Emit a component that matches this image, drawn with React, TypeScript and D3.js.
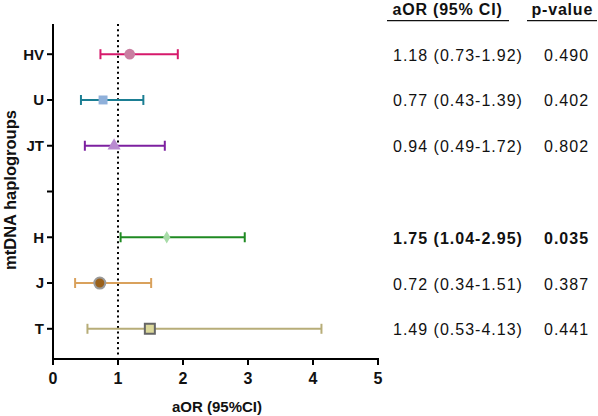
import React from "react";
import * as d3 from "d3";

const groups = ["HV", "U", "JT", "", "H", "J", "T"];
const aor = [1.18, 0.77, 0.94, NaN, 1.75, 0.72, 1.49];
const ciLow = [0.73, 0.43, 0.49, NaN, 1.04, 0.34, 0.53];
const ciHigh = [1.92, 1.39, 1.72, NaN, 2.95, 1.51, 4.13];
const pValues = ["0.490", "0.402", "0.802", "", "0.035", "0.387", "0.441"];
const significant = [false, false, false, false, true, false, false];
const xTicks = [0, 1, 2, 3, 4, 5];

const lineColors = ["#d6196b", "#1b7e93", "#7d20a0", "", "#1f8a22", "#d9a15c", "#b7ad78"];
const markerFill = ["#c97fa2", "#8fb0da", "#b98bd0", "", "#a8dca8", "#9a611b", "#dcd99b"];
const markerStroke = ["none", "none", "none", "none", "none", "#9a9a9a", "#666666"];
const markerShape = ["circle", "square", "triangle", "", "diamond", "circle", "square"];
const markerSize = [90, 80, 75, 0, 45, 95, 100];

const W = 598;
const H = 416;
const FONT = "'Liberation Sans', Arial, Helvetica, sans-serif";

export default function App() {
  const x = d3.scaleLinear().domain([0, 5]).range([53, 378]);
  const y = d3.scaleLinear().domain([0.34, 7.66]).range([24, 359]);
  const rowY = (i: number) => y(i + 1);

  const symbolFor = (s: string) =>
    s === "circle" ? d3.symbolCircle : s === "square" ? d3.symbolSquare : s === "triangle" ? d3.symbolTriangle : d3.symbolDiamond;

  const tableX = 393;
  const pX = 544;

  return (
    <div style={{ position: "absolute", left: 0, top: 0 }}>
      <svg width={W} height={H} style={{ display: "block", background: "#fff" }} fontFamily={FONT}>
        {/* reference line at 1 */}
        <line x1={x(1)} x2={x(1)} y1={y(0.34)} y2={y(7.66)} stroke="#000" strokeWidth={2} strokeDasharray="2,3.3" />

        {/* error bars */}
        {groups.map((g, i) => {
          if (isNaN(aor[i])) return null;
          const cy = rowY(i);
          const x0 = x(ciLow[i]);
          const x1 = x(ciHigh[i]);
          const sym = d3.symbol().type(symbolFor(markerShape[i])).size(markerSize[i])();
          return (
            <g key={g}>
              <line x1={x0} x2={x1} y1={cy} y2={cy} stroke={lineColors[i]} strokeWidth={2} />
              <line x1={x0} x2={x0} y1={cy - 5} y2={cy + 5} stroke={lineColors[i]} strokeWidth={2} />
              <line x1={x1} x2={x1} y1={cy - 5} y2={cy + 5} stroke={lineColors[i]} strokeWidth={2} />
              <path
                d={sym || ""}
                transform={`translate(${x(aor[i])},${cy})`}
                fill={markerFill[i]}
                stroke={markerStroke[i]}
                strokeWidth={2}
              />
            </g>
          );
        })}

        {/* y axis */}
        <line x1={53} x2={53} y1={y(0.34)} y2={y(7.66) + 1} stroke="#000" strokeWidth={2} />
        {groups.map((g, i) => (
          <g key={"yt" + i}>
            <line x1={47} x2={53} y1={rowY(i)} y2={rowY(i)} stroke="#000" strokeWidth={2} />
            <text x={44} y={rowY(i)} dy="0.36em" textAnchor="end" fontWeight="bold" fontSize={15} fill="#111">
              {g}
            </text>
          </g>
        ))}

        {/* x axis */}
        <line x1={52} x2={x(5) + 1} y1={y(7.66)} y2={y(7.66)} stroke="#000" strokeWidth={2} />
        {xTicks.map((t) => (
          <g key={"xt" + t}>
            <line x1={x(t)} x2={x(t)} y1={y(7.66)} y2={y(7.66) + 6} stroke="#000" strokeWidth={2} />
            <text x={x(t)} y={384} textAnchor="middle" fontWeight="bold" fontSize={16} fill="#111">
              {t}
            </text>
          </g>
        ))}
        <text x={217} y={412} textAnchor="middle" fontWeight="bold" fontSize={15} fill="#111">
          aOR (95%CI)
        </text>
        <text
          transform={`translate(16,${190}) rotate(-90)`}
          textAnchor="middle"
          fontWeight="bold"
          fontSize={16.5}
          fill="#111"
        >
          mtDNA haplogroups
        </text>

        {/* table */}
        <text x={392.5} y={15} fontWeight="bold" fontSize={16} letterSpacing={0.8} fill="#111">
          aOR (95% CI)
        </text>
        <line x1={387} x2={509} y1={20.7} y2={20.7} stroke="#111" strokeWidth={1.2} />
        <text x={531.5} y={15} fontWeight="bold" fontSize={16} letterSpacing={0.8} fill="#111">
          p-value
        </text>
        <line x1={527} x2={597} y1={20.7} y2={20.7} stroke="#111" strokeWidth={1.2} />
        {groups.map((g, i) => {
          if (isNaN(aor[i])) return null;
          const cy = rowY(i) + 6.5;
          const w = significant[i] ? "bold" : "normal";
          return (
            <g key={"tb" + i}>
              <text x={tableX} y={cy} fontSize={16} letterSpacing={1} fontWeight={w} fill="#111">
                {`${aor[i].toFixed(2)} (${ciLow[i].toFixed(2)}-${ciHigh[i].toFixed(2)})`}
              </text>
              <text x={pX} y={cy} fontSize={16} letterSpacing={1} fontWeight={w} fill="#111">
                {pValues[i]}
              </text>
            </g>
          );
        })}
      </svg>
    </div>
  );
}
